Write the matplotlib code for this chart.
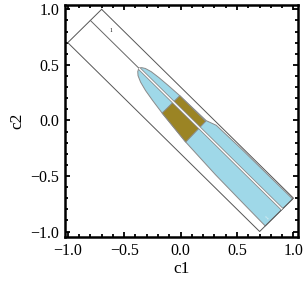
import matplotlib
matplotlib.use("Agg")
import matplotlib.pyplot as plt
import numpy as np
from matplotlib.ticker import MultipleLocator

plt.rcParams['font.family'] = ['Liberation Serif', 'DejaVu Serif']

# region data, given in rotated coords: d = c1 - c2, s = c1 + c2
rect_d = [-1.7, 1.7, 1.7, -1.7]
rect_s = [0.3, 0.3, -0.3, -0.3]
center_s = 0.1

# light blue region boundary (upper/right side and lower/left side)
blue_right_d = [-0.84, -0.82, -0.78, -0.70, -0.58, -0.42, -0.23, 0.23, 0.36, 0.80, 1.70]
blue_right_s = [0.10, 0.13, 0.155, 0.178, 0.193, 0.205, 0.215, 0.225, 0.272, 0.282, 0.285]
blue_left_d = [-0.84, -0.82, -0.78, -0.70, -0.58, -0.42, -0.23, 0.24, 0.80, 1.30, 1.70]
blue_left_s = [0.10, 0.06, 0.025, -0.010, -0.042, -0.070, -0.098, -0.150, -0.180, -0.192, -0.200]

# brown block
brown_d = [-0.23, 0.23]
brown_top_s = 0.215


def to_c(d, s):
    d = np.asarray(d, dtype=float)
    s = np.asarray(s, dtype=float)
    return (s + d) / 2, (s - d) / 2


fig = plt.figure(figsize=(3.05, 2.87), dpi=100)
ax = fig.add_axes([0.213, 0.174, 0.764, 0.809])

edge = '#8a8a8a'
blue = '#9fd8e8'
brown = '#9b8424'

# blue region
bd = np.concatenate([blue_right_d, blue_left_d[::-1]])
bs = np.concatenate([blue_right_s, blue_left_s[::-1]])
x, y = to_c(bd, bs)
ax.fill(x, y, facecolor=blue, edgecolor=edge, linewidth=0.7, zorder=2)

# brown region (bounded below by the blue left edge)
i0, i1 = 6, 7
pd_ = [brown_d[0], brown_d[1], blue_left_d[i1], blue_left_d[i0]]
ps_ = [brown_top_s, brown_top_s, blue_left_s[i1], blue_left_s[i0]]
x, y = to_c(pd_, ps_)
ax.fill(x, y, facecolor=brown, edgecolor=edge, linewidth=0.7, zorder=3)

# outer rectangle
x, y = to_c(rect_d + rect_d[:1], rect_s + rect_s[:1])
ax.plot(x, y, color='#555555', linewidth=0.7, zorder=4)

# center contour line
x, y = to_c([-1.7, 1.7], [center_s, center_s])
ax.plot(x, y, color='#666666', linewidth=0.7, zorder=4)
x, y = to_c([blue_left_d[0], 1.7], [center_s, center_s])
ax.plot(x, y, color=edge, linewidth=2.2, zorder=5, solid_capstyle='butt')
ax.plot(x, y, color='white', linewidth=1.0, zorder=6, solid_capstyle='butt')

ax.text(-0.62, 0.81, '1', fontsize=4, ha='center', va='center', zorder=7)
ax.text(0.77, -0.88, '1', fontsize=4, color='#e8f4f8', ha='center', va='center',
        rotation=45, zorder=7)

ax.set_xlim(-1.025, 1.04)
ax.set_ylim(-1.05, 1.04)
ax.xaxis.set_major_locator(MultipleLocator(0.5))
ax.yaxis.set_major_locator(MultipleLocator(0.5))
ax.xaxis.set_minor_locator(MultipleLocator(0.1))
ax.yaxis.set_minor_locator(MultipleLocator(0.1))
fmt = plt.FuncFormatter(lambda v, p: f'{v:.1f}'.replace('-', '\u2212'))
ax.xaxis.set_major_formatter(fmt)
ax.yaxis.set_major_formatter(fmt)
ax.tick_params(which='both', direction='in', top=True, right=True, width=1.3,
               labelsize=11.5, pad=4)
ax.tick_params(which='major', length=3.5)
ax.tick_params(which='minor', length=2.0)
for sp in ax.spines.values():
    sp.set_linewidth(1.8)

ax.set_xlabel('c1', fontsize=12.5, labelpad=2)
ax.set_ylabel('c2', fontsize=12.5, labelpad=4)

fig.savefig('out.png', dpi=100)
